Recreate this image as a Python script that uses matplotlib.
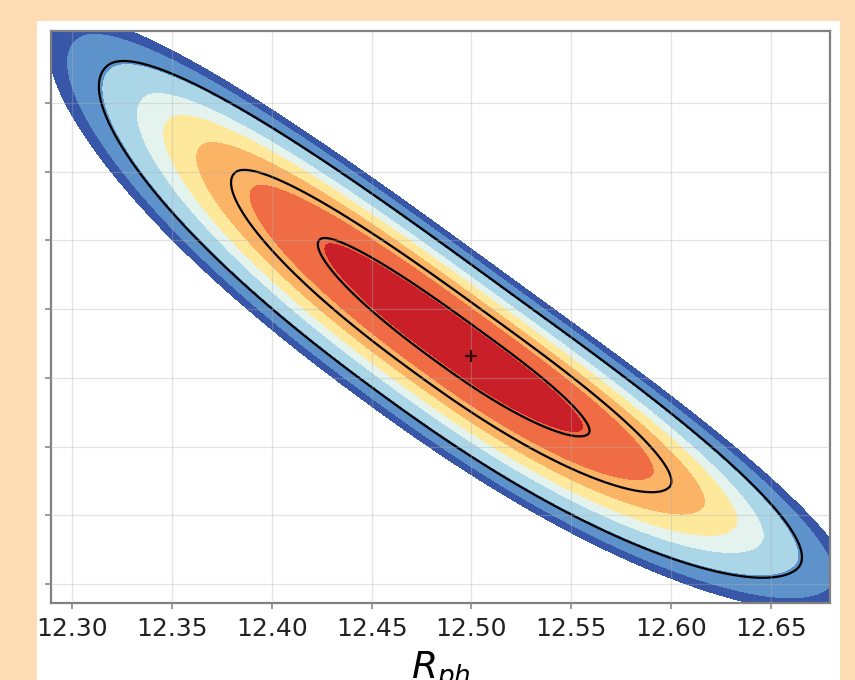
import numpy as np
import matplotlib.pyplot as plt
from matplotlib.patches import Rectangle

# Posterior shape (x in R_ph units, y in tick units)
mean_x, mean_y = 12.4947, 3.48
sigma_x, sigma_y = 0.0704, 1.487
rho = -0.953
tail_power = 2.4               # heavier-than-Gaussian fall-off along the degeneracy
skew_lo, skew_hi = 1.03, 0.90  # upper-left tail a bit longer than lower-right
side_lo, side_hi = 1.1, 0.9    # lower-left flank wider than upper-right flank
bend = 0.012                   # slight banana curvature of the degeneracy

fill_levels = [0, 0.9, 2.6, 4.5, 6.0, 7.4, 9.5, 12.0, 13.4]
fill_colors = ['#c91f28', '#f06c44', '#fbb366', '#fde89c', '#e4f3ee',
               '#aad6e8', '#5d93ca', '#3857a8']
line_levels = [1.0, 3.17, 9.7]

best_x, best_y = 12.50, 3.32

xticks = [12.30, 12.35, 12.40, 12.45, 12.50, 12.55, 12.60, 12.65]
xtick_labels = ['12.30', '12.35', '12.40', '12.45', '12.50', '12.55', '12.60', '12.65']
yticks = [0, 1, 2, 3, 4, 5, 6, 7]

# Grid for the density surface
x = np.linspace(12.2895, 12.6795, 500)
y = np.linspace(-0.2765, 8.048, 500)
X, Y = np.meshgrid(x, y)
a = (X - mean_x) / sigma_x
b = (Y - mean_y) / sigma_y
u = (a - b) / np.sqrt(2)
v = (a + b) / np.sqrt(2) - bend * u ** 2
su = np.sqrt(1 - rho) * np.where(u < 0, skew_lo, skew_hi)
sv = np.sqrt(1 + rho) * np.where(v < 0, side_lo, side_hi)
F = np.abs(u / su) ** tail_power + (v / sv) ** 2

fig = plt.figure(figsize=(8.55, 6.8), dpi=100)
fig.patch.set_facecolor('#fedcb4')
fig.patches.append(Rectangle((37 / 855, 0), 803 / 855, 659 / 680,
                             transform=fig.transFigure, facecolor='white',
                             edgecolor='none', zorder=-1))

ax = fig.add_axes([51 / 855, 77 / 680, 779 / 855, 572 / 680])
ax.set_zorder(1)
ax.contourf(X, Y, F, levels=fill_levels, colors=fill_colors)
ax.contour(X, Y, F, levels=line_levels, colors='k', linewidths=1.6)
ax.plot(best_x, best_y, marker='+', color='#300808', markersize=9, mew=1.6, zorder=4)

ax.set_xlim(12.2895, 12.6795)
ax.set_ylim(-0.2765, 8.048)
ax.set_xticks(xticks)
ax.set_xticklabels(xtick_labels)
ax.set_yticks(yticks)
ax.set_yticklabels([])
ax.set_axisbelow(False)
ax.grid(True, color='#b0b0b0', alpha=0.35, lw=0.9)
ax.tick_params(direction='out', length=4, width=1.2, color='#888888',
               labelsize=18, labelcolor='#222222', pad=6)
for sp in ax.spines.values():
    sp.set_color('#808080')
    sp.set_linewidth(1.6)

ax.set_xlabel(r'$R_{ph}$', fontsize=27, labelpad=6)

fig.savefig('out.png', dpi=100, facecolor=fig.get_facecolor())
